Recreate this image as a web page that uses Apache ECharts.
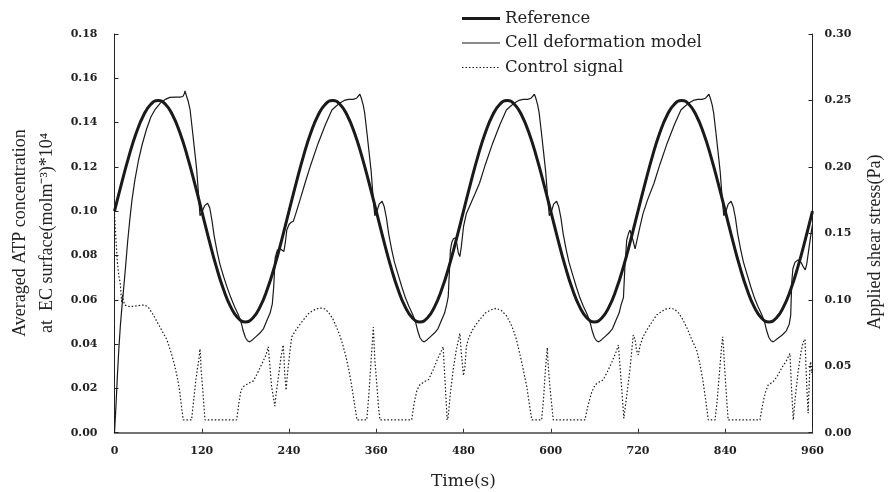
<!DOCTYPE html>
<html>
<head>
<meta charset="utf-8">
<script src="https://cdn.jsdelivr.net/npm/echarts@6/dist/echarts.min.js"></script>
<style>
html,body{margin:0;padding:0;background:#fff;}
#chart{width:889px;height:492px;}
</style>
</head>
<body>
<div id="chart"></div>
<script>
// ---- data ----
var xTicks = [0, 120, 240, 360, 480, 600, 720, 840, 960];
var seriesNames = ['Reference', 'Cell deformation model', 'Control signal'];

// Reference ATP concentration (left axis), [time s, value]
var referenceData = [
[0,0.1000],[10,0.1129],[20,0.1250],[30,0.1354],[40,0.1433],[50,0.1483],[60,0.1500],[70,0.1483],[80,0.1433],[90,0.1354],[100,0.1250],[110,0.1129],
[120,0.1000],[130,0.0871],[140,0.0750],[150,0.0646],[160,0.0567],[170,0.0517],[180,0.0500],[190,0.0517],[200,0.0567],[210,0.0646],[220,0.0750],[230,0.0871],
[240,0.1000],[250,0.1129],[260,0.1250],[270,0.1354],[280,0.1433],[290,0.1483],[300,0.1500],[310,0.1483],[320,0.1433],[330,0.1354],[340,0.1250],[350,0.1129],
[360,0.1000],[370,0.0871],[380,0.0750],[390,0.0646],[400,0.0567],[410,0.0517],[420,0.0500],[430,0.0517],[440,0.0567],[450,0.0646],[460,0.0750],[470,0.0871],
[480,0.1000],[490,0.1129],[500,0.1250],[510,0.1354],[520,0.1433],[530,0.1483],[540,0.1500],[550,0.1483],[560,0.1433],[570,0.1354],[580,0.1250],[590,0.1129],
[600,0.1000],[610,0.0871],[620,0.0750],[630,0.0646],[640,0.0567],[650,0.0517],[660,0.0500],[670,0.0517],[680,0.0567],[690,0.0646],[700,0.0750],[710,0.0871],
[720,0.1000],[730,0.1129],[740,0.1250],[750,0.1354],[760,0.1433],[770,0.1483],[780,0.1500],[790,0.1483],[800,0.1433],[810,0.1354],[820,0.1250],[830,0.1129],
[840,0.1000],[850,0.0871],[860,0.0750],[870,0.0646],[880,0.0567],[890,0.0517],[900,0.0500],[910,0.0517],[920,0.0567],[930,0.0646],[940,0.0750],[950,0.0871],
[960,0.1000]
];

// Cell deformation model ATP concentration (left axis), [time s, value]
var modelData = [
[0,0],[2,0.012],[4,0.026],[6,0.038],[8,0.048],[10,0.056],[12,0.063],[15,0.074],[18,0.086],[21,0.096],[24,0.105],[28,0.114],[33,0.123],[38,0.130],[44,0.137],[50,0.1425],[56,0.146],[63,0.1488],[70,0.1505],[76,0.1514],[84,0.1515],[90,0.1515],[94,0.1518],[96,0.1530],[97,0.1543],[99,0.1520],[101.5,0.1495],[104,0.1457],[107,0.137],[110,0.128],[113,0.119],[115.5,0.108],[117.6,0.098],[120,0.0995],[124,0.1025],[128,0.1036],[131,0.1015],[134,0.096],[137,0.089],[141,0.082],[145,0.076],[150,0.0705],[155,0.0655],[160,0.061],[165,0.057],[170,0.0535],[174,0.050],[177,0.046],[180,0.043],[183,0.0415],[186,0.041],[190,0.042],[195,0.0435],[200,0.045],[205,0.047],[210,0.051],[214,0.054],[217,0.058],[219,0.066],[221,0.079],[224,0.0825],[228,0.083],[233,0.0818],[235,0.086],[237,0.0915],[240,0.094],
[243,0.0950],[246,0.0955],[250,0.0996],[256,0.106],[262,0.1126],[270,0.121],[280,0.1306],[290,0.139],[299,0.1457],[305,0.1475],[310,0.1488],[316,0.1500],[322,0.1505],[328,0.1505],[333,0.1510],[335,0.1508],[337.5,0.1528],[339.5,0.1510],[342,0.148],[344,0.1445],[347,0.136],[350,0.127],[353,0.118],[355.5,0.107],[358,0.098],[361,0.100],[364,0.1032],[368,0.1045],[371,0.102],[374,0.097],[377,0.090],[381,0.083],[385,0.077],[390,0.0715],[395,0.066],[400,0.061],[405,0.057],[410,0.0535],[414,0.050],[417,0.046],[420,0.043],[423,0.0415],[426,0.041],[430,0.042],[435,0.0435],[440,0.045],[445,0.047],[450,0.051],[454,0.054],[457,0.058],[459,0.0614],[460.5,0.072],[462,0.0825],[464,0.086],[466,0.0875],[469,0.088],[471,0.085],[473,0.081],[475,0.0795],[477,0.084],[480,0.093],
[484,0.099],[490,0.1035],[496,0.108],[502,0.1126],[510,0.121],[520,0.1306],[530,0.139],[539,0.1457],[545,0.1475],[550,0.1488],[556,0.1500],[562,0.1505],[568,0.1505],[573,0.1510],[575,0.1508],[577.5,0.1528],[579.5,0.1510],[582,0.148],[584,0.1445],[587,0.136],[590,0.127],[593,0.118],[595.5,0.107],[598,0.098],[601,0.100],[604,0.1032],[608,0.1045],[611,0.102],[614,0.097],[617,0.090],[621,0.083],[625,0.077],[630,0.0715],[635,0.066],[640,0.061],[645,0.057],[650,0.0535],[654,0.050],[657,0.046],[660,0.043],[663,0.0415],[666,0.041],[670,0.042],[675,0.0435],[680,0.045],[685,0.047],[690,0.051],[694,0.054],[697,0.058],[700,0.061],[702,0.075],[704.5,0.087],[707,0.090],[709,0.0915],[711,0.089],[713,0.087],[716,0.083],[718,0.083],[720,0.089],
[722,0.092],[727,0.099],[733,0.105],[742,0.1126],[750,0.121],[760,0.1306],[770,0.139],[779,0.1457],[785,0.1475],[790,0.1488],[796,0.1500],[802,0.1505],[808,0.1505],[813,0.1510],[815,0.1508],[817.5,0.1528],[819.5,0.1510],[822,0.148],[824,0.1445],[827,0.136],[830,0.127],[833,0.118],[835.5,0.107],[838,0.098],[841,0.100],[844,0.1032],[848,0.1045],[851,0.102],[854,0.097],[857,0.090],[861,0.083],[865,0.077],[870,0.0715],[875,0.066],[880,0.061],[885,0.057],[890,0.0535],[894,0.050],[897,0.046],[900,0.043],[903,0.0415],[906,0.041],[912,0.0425],[918,0.044],[924,0.046],[928,0.049],[930,0.053],[931.5,0.068],[933,0.074],[936,0.077],[940,0.078],[944,0.077],[948,0.0745],[950,0.0735],[952,0.076],[955,0.083],[958,0.090],[960,0.094]
];

// Control signal, applied shear stress in Pa (right axis), [time s, value]
var controlData = [
[0,0.165],[2,0.145],[4,0.128],[6,0.118],[8,0.112],[9,0.104],[10,0.098],[11,0.104],[12,0.100],[14,0.096],[20,0.095],[26,0.095],[32,0.0955],[38,0.096],[42,0.096],[47,0.094],[53,0.089],[60,0.082],[66,0.076],[72,0.070],[78,0.060],[83,0.050],[87,0.040],[90,0.030],[92.5,0.018],[94.6,0.0096],[106,0.0096],[109,0.025],[112,0.040],[114,0.048],[116,0.055],[117.6,0.063],[118.5,0.056],[119,0.048],[121,0.035],[123,0.020],[124.5,0.0096],[168,0.0096],[171,0.022],[174,0.032],[178,0.035],[184,0.037],[191,0.039],[196,0.044],[202,0.051],[208,0.058],[211.5,0.0647],[213,0.055],[216,0.035],[220.5,0.020],[222,0.028],[225,0.040],[229,0.057],[232,0.066],[233,0.058],[234,0.045],[236,0.032],[238,0.045],[241,0.060],
[243.7,0.072],[248,0.076],[253,0.080],[260,0.085],[266.6,0.0895],[273,0.092],[280,0.0935],[285,0.0938],[290,0.093],[295,0.090],[300,0.086],[305,0.080],[310,0.073],[313,0.068],[318,0.058],[322,0.048],[326,0.036],[330,0.022],[333.5,0.0096],[347,0.0096],[350,0.030],[353,0.055],[356,0.0795],[357,0.068],[358,0.055],[361,0.035],[363,0.020],[365,0.0096],[408.7,0.0096],[412,0.022],[416,0.032],[420,0.036],[425,0.038],[432,0.040],[438,0.047],[444,0.055],[450,0.062],[452,0.0647],[454,0.045],[456,0.025],[457.5,0.0096],[459,0.012],[462,0.030],[466,0.048],[470,0.062],[475,0.0748],[477,0.060],[480,0.043],[482,0.050],[484,0.065],[487,0.071],
[492,0.077],[498,0.082],[503,0.0855],[510,0.090],[518,0.0925],[525,0.0936],[532,0.092],[539,0.088],[545,0.082],[550,0.075],[553,0.0697],[558,0.058],[562,0.048],[567,0.0346],[571,0.020],[574,0.0096],[587.5,0.0096],[590,0.025],[593,0.050],[595.3,0.064],[596,0.055],[598,0.040],[600,0.028],[603.5,0.0096],[647,0.0096],[651,0.020],[656,0.030],[661,0.036],[666,0.038],[672,0.0397],[678,0.046],[684,0.053],[690,0.061],[693,0.066],[695,0.052],[698,0.030],[700.5,0.0108],[702,0.012],[705,0.030],[709,0.048],[713.5,0.0735],[716,0.070],[718,0.062],[720.4,0.0585],[723,0.066],[727,0.0722],
[733,0.078],[740,0.084],[745.7,0.0886],[752,0.091],[758,0.093],[764,0.0936],[770,0.093],[776,0.090],[782,0.0848],[788,0.078],[794,0.070],[800.7,0.0622],[805,0.052],[809,0.040],[813,0.025],[816.7,0.0096],[826,0.0096],[829,0.025],[832,0.045],[835,0.065],[836.5,0.0722],[837.5,0.065],[839,0.050],[841,0.033],[844,0.0096],[887.8,0.0096],[891,0.020],[895,0.030],[899,0.0359],[906,0.0384],[912,0.043],[918,0.049],[924,0.054],[929,0.0597],[931,0.035],[933.6,0.0096],[936,0.025],[940,0.045],[944,0.060],[947,0.068],[949.7,0.0703],[951,0.050],[952.5,0.030],[954,0.0146],[955,0.030],[956.5,0.050],[957.5,0.0534],[959,0.045],[960,0.048]
];

// ---- chart ----
var chart = echarts.init(document.getElementById('chart'), null, {renderer: 'canvas'});
var ink = '#1a1a1a';
var tickFont = {fontFamily: 'DejaVu Serif', fontWeight: 'bold', fontSize: 11, color: '#222'};
var refLine = {color: ink, width: 3};
var modelLine = {color: ink, width: 1.2};
var controlLine = {color: ink, width: 1.2, type: [1.5, 2]};

var option = {
  animation: false,
  backgroundColor: '#ffffff',
  grid: {left: 114.5, right: 76.5, top: 34, bottom: 59.3, containLabel: false, outerBoundsMode: 'none'},
  legend: {
    orient: 'vertical',
    left: 455.5, top: 5,
    itemWidth: 38, itemHeight: 14, itemGap: 7.5,
    itemStyle: {opacity: 0},
    data: [
      {name: seriesNames[0], lineStyle: {width: 3, color: ink}},
      {name: seriesNames[1], lineStyle: {width: 1.2, color: ink}},
      {name: seriesNames[2], lineStyle: {width: 1.2, color: ink, type: [1.5, 2]}}
    ],
    textStyle: {fontFamily: 'DejaVu Serif', fontSize: 16.5, color: '#222'},
    selectedMode: false
  },
  xAxis: {
    type: 'value', min: 0, max: 960, interval: 120,
    name: 'Time(s)', nameLocation: 'middle', nameGap: 40,
    nameTextStyle: {fontFamily: 'DejaVu Serif', fontSize: 17, color: '#222'},
    axisLine: {lineStyle: {color: '#444', width: 1.5}},
    axisTick: {inside: true, length: 4, lineStyle: {color: '#333'}},
    axisLabel: Object.assign({margin: 13}, tickFont),
    splitLine: {show: false}
  },
  yAxis: [
    {
      type: 'value', min: 0, max: 0.18, interval: 0.02,
      axisLine: {show: true, lineStyle: {color: '#222', width: 1}},
      axisTick: {show: true, inside: true, length: 4, lineStyle: {color: '#222'}},
      axisLabel: Object.assign({margin: 17, formatter: function (v) { return v.toFixed(2); }}, tickFont),
      splitLine: {show: false}
    },
    {
      type: 'value', min: 0, max: 0.30, interval: 0.05, position: 'right',
      axisLine: {show: true, lineStyle: {color: '#222', width: 1}},
      axisTick: {show: true, inside: true, length: 4, lineStyle: {color: '#222'}},
      axisLabel: Object.assign({margin: 12, formatter: function (v) { return v.toFixed(2); }}, tickFont),
      splitLine: {show: false}
    }
  ],
  series: [
    {
      name: seriesNames[0], type: 'line', data: referenceData, yAxisIndex: 0,
      showSymbol: false, symbol: 'none', smooth: true,
      lineStyle: refLine, itemStyle: {color: ink}, z: 3
    },
    {
      name: seriesNames[1], type: 'line', data: modelData, yAxisIndex: 0,
      showSymbol: false, symbol: 'none', smooth: false,
      lineStyle: modelLine, itemStyle: {color: ink}, z: 2
    },
    {
      name: seriesNames[2], type: 'line', data: controlData, yAxisIndex: 1,
      showSymbol: false, symbol: 'none', smooth: false,
      lineStyle: controlLine, itemStyle: {color: ink}, z: 1
    }
  ],
  graphic: [
    {type: 'text', x: 20, y: 233, rotation: Math.PI / 2,
     style: {text: 'Averaged ATP concentration', fontFamily: 'Liberation Serif', fontSize: 18, fill: '#222', align: 'center', verticalAlign: 'middle'}},
    {type: 'text', x: 47, y: 233, rotation: Math.PI / 2,
     style: {text: 'at  EC surface(molm\u207B\u00B3)*10\u2074', fontFamily: 'Liberation Serif', fontSize: 18, fill: '#222', align: 'center', verticalAlign: 'middle'}},
    {type: 'text', x: 875, y: 242, rotation: Math.PI / 2,
     style: {text: 'Applied shear stress(Pa)', fontFamily: 'Liberation Serif', fontSize: 18, fill: '#222', align: 'center', verticalAlign: 'middle'}}
  ]
};
chart.setOption(option);
</script>
</body>
</html>
